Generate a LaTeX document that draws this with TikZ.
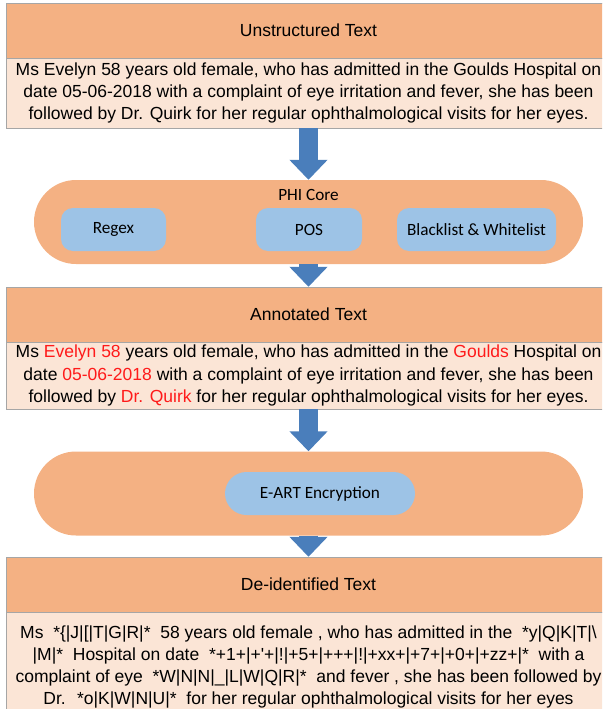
\documentclass[tikz,border=0pt]{standalone}
\usepackage{fontspec}
\newfontfamily\arialfont{Liberation Sans}
\newfontfamily\calfont{Carlito}
\usetikzlibrary{arrows.meta}
\definecolor{hdrorange}{HTML}{F4B183}
\definecolor{bodypeach}{HTML}{FBE5D6}
\definecolor{toolblue}{HTML}{9DC3E6}
\definecolor{flowblue}{HTML}{4A7EBB}
\definecolor{framegray}{HTML}{A6A6A6}
\definecolor{phired}{HTML}{FF1A1A}
\begin{document}
\begin{tikzpicture}[x=1pt,y=-1pt,
  hdr/.style={draw=framegray, fill=hdrorange, minimum width=604pt, minimum height=55pt,
    font=\arialfont\fontsize{17.5}{20}\selectfont},
  txtbox/.style={draw=framegray, fill=bodypeach, minimum width=604pt, align=center,
    font=\arialfont\fontsize{17.5}{22.3}\selectfont},
  pill/.style={fill=hdrorange, minimum width=549pt, minimum height=84pt, rounded corners=42pt},
  tool/.style={fill=toolblue, minimum height=43pt, rounded corners=12pt,
    font=\calfont\fontsize{17.2}{20}\selectfont},
  flow/.style={draw=flowblue, line width=19pt, -{Triangle[length=20pt,width=37pt]}}]
  \useasboundingbox (0,0) rectangle (602,709);
  \clip (0,0) rectangle (602,709);
  \node[hdr] (uhead) at (308.5,30.5) {Unstructured Text};
  \node[txtbox, minimum height=70pt] (ubody) at (308.5,93) {Ms Evelyn 58 years old female, who has admitted in the Goulds Hospital on\\
    date 05-06-2018 with a complaint of eye irritation and fever, she has been\\
    followed by Dr. Quirk for her regular ophthalmological visits for her eyes.};
  \node[pill] (phi) at (308.5,222) {};
  \node[font=\calfont\fontsize{17.2}{20}\selectfont] (phititle) at (308.5,195) {PHI Core};
  \node[tool, minimum width=105pt] (regex) at (113.5,229.5) {Regex};
  \node[tool, minimum width=106pt] (pos) at (309,229.5) {POS};
  \node[tool, minimum width=159pt] (bwlist) at (476.5,229.5) {Blacklist \& Whitelist};
  \node[hdr] (ahead) at (308.5,314.5) {Annotated Text};
  \node[txtbox, minimum height=67pt] (abody) at (308.5,375.5) {Ms \textcolor{phired}{Evelyn 58} years old female, who has admitted in the \textcolor{phired}{Goulds} Hospital on\\
    date \textcolor{phired}{05-06-2018} with a complaint of eye irritation and fever, she has been\\
    followed by \textcolor{phired}{Dr. Quirk} for her regular ophthalmological visits for her eyes.};
  \node[pill] (eart) at (308.5,493.5) {};
  \node[tool, minimum width=190pt, rounded corners=21.5pt] (enc) at (320,493.5) {E-ART Encryption};
  \node[hdr] (dhead) at (308.5,584.5) {De-identified Text};
  \node[txtbox, minimum height=110pt] (dbody) at (308.5,667) {Ms ~*\{|J|[|T|G|R|*~ 58 years old female , who has admitted in the ~*y|Q|K|T|\textbackslash\\
    |M|*~ Hospital on date ~*+1+|+'+|!|+5+|+++|!|+xx+|+7+|+0+|+zz+|*~ with a\\
    complaint of eye ~*W|N|N|\_|L|W|Q|R|*~ and fever , she has been followed by\\
    Dr. ~*o|K|W|N|U|*~ for her regular ophthalmological visits for her eyes};
  \draw[flow] (ubody) -- (phi);
  \draw[flow] (phi) -- (ahead);
  \draw[flow] (abody) -- (eart);
  \draw[flow] (eart) -- (dhead);
\end{tikzpicture}
\end{document}
